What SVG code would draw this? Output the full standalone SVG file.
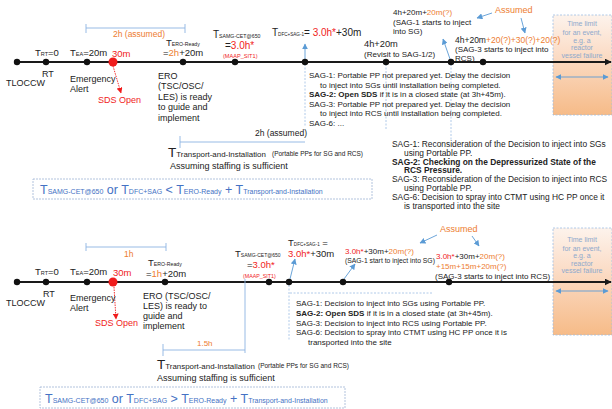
<svg xmlns="http://www.w3.org/2000/svg" width="612" height="409" viewBox="0 0 612 409">
<defs>
<style>
text{font-family:"Liberation Sans",Arial,"DejaVu Sans",sans-serif;fill:#222}
.f9{font-size:9px}
.f8{font-size:8px}
.f83{font-size:8.4px}
.or{fill:#ed7d31}
.rd{fill:#f01c1c}
.b{font-weight:bold}
.bx{fill:#4472c4}
.lim{fill:#8ea9cc;font-size:7px;text-anchor:middle}
.dot{fill:#111}
.tl{stroke:#1a1a1a;stroke-width:1.8;fill:none}
.bl{stroke:#8db3e2;stroke-width:0.9;fill:none}
.dl{stroke:#9dbde3;stroke-width:0.8;stroke-dasharray:2 1.5;fill:none}
.ar{stroke:#5b9bd5;stroke-width:0.9;fill:none}
.box{fill:#fff;stroke:#a9bcd9;stroke-width:0.9;stroke-dasharray:2 1}
.lb{fill:url(#og);stroke:#9dbde3;stroke-width:0.8;stroke-dasharray:2 1.5}
</style>
<linearGradient id="og" x1="0" y1="0" x2="0" y2="1">
<stop offset="0" stop-color="#fdf3ec"/>
<stop offset="0.4" stop-color="#fbdcc6"/>
<stop offset="1" stop-color="#f6bb88"/>
</linearGradient>
<marker id="mb" viewBox="0 0 10 10" refX="9" refY="5" markerWidth="6" markerHeight="6" markerUnits="userSpaceOnUse" orient="auto-start-reverse"><path d="M0,0 L10,5 L0,10 z" fill="#5b9bd5"/></marker>
<marker id="mr" viewBox="0 0 10 10" refX="9" refY="5" markerWidth="6" markerHeight="6" markerUnits="userSpaceOnUse" orient="auto"><path d="M0,0 L10,5 L0,10 z" fill="#f01c1c"/></marker>
<marker id="mk" viewBox="0 0 10 10" refX="9" refY="5" markerWidth="7" markerHeight="7" markerUnits="userSpaceOnUse" orient="auto"><path d="M0,0 L10,5 L0,10 z" fill="#1a1a1a"/></marker>
</defs>

<g id="limit-top">
<rect class="lb" x="553" y="15" width="59" height="100"/>
<text class="lim" x="582" y="26">Time limit</text>
<text class="lim" x="582" y="35">for an event,</text>
<text class="lim" x="582" y="42.5">e.g. a</text>
<text class="lim" x="582" y="50">reactor</text>
<text class="lim" x="582" y="57.5">vessel failure</text>
<line class="ar" x1="556" y1="77" x2="608" y2="77" marker-start="url(#mb)" marker-end="url(#mb)"/>
</g>
<g id="limit-bottom">
<rect class="lb" x="553" y="228" width="59" height="107"/>
<text class="lim" x="582" y="241.5">Time limit</text>
<text class="lim" x="582" y="250.5">for an event,</text>
<text class="lim" x="582" y="258">e.g. a</text>
<text class="lim" x="582" y="265.5">reactor</text>
<text class="lim" x="582" y="273">vessel failure</text>
<line class="ar" x1="556" y1="291" x2="608" y2="291" marker-start="url(#mb)" marker-end="url(#mb)"/>
</g>

<g id="connectors">
<line class="tl" x1="17" y1="62" x2="611" y2="62" marker-end="url(#mk)"/>
<line class="tl" x1="17" y1="282" x2="611" y2="282" marker-end="url(#mk)"/>
<path class="bl" d="M86,28 H185 M86,24 V33 M185,24 V33"/>
<path class="bl" d="M180,142 H305 M180,136 V148"/>
<line class="dl" x1="305" y1="64" x2="305" y2="127"/>
<line class="dl" x1="386" y1="64" x2="386" y2="130"/>
<line class="dl" x1="451" y1="64" x2="451" y2="140"/>
<line class="ar" x1="305" y1="59" x2="305" y2="44" marker-end="url(#mb)"/>
<line class="ar" x1="450" y1="59" x2="443" y2="39" marker-end="url(#mb)"/>
<line class="ar" x1="492" y1="13" x2="477" y2="18" marker-end="url(#mb)"/>
<line class="ar" x1="521" y1="18" x2="525" y2="33" marker-end="url(#mb)"/>
<line x1="113" y1="66" x2="121" y2="93" stroke="#f01c1c" stroke-width="0.9" stroke-dasharray="1.5 1" marker-end="url(#mr)"/>
<path class="bl" d="M86,247 H166 M86,243 V251 M166,243 V251"/>
<path class="bl" d="M163,350 H245 M163,344 V356 M245,279 V353"/>
<line class="dl" x1="289" y1="285" x2="289" y2="341"/>
<line class="dl" x1="290" y1="293" x2="432" y2="293"/>
<line class="ar" x1="290" y1="279" x2="295" y2="259" marker-end="url(#mb)"/>
<line class="ar" x1="344" y1="279" x2="355" y2="264" marker-end="url(#mb)"/>
<line class="ar" x1="437" y1="235" x2="420" y2="243" marker-end="url(#mb)"/>
<line class="ar" x1="472" y1="236" x2="479" y2="246" marker-end="url(#mb)"/>
<line x1="114" y1="287" x2="116" y2="319" stroke="#f01c1c" stroke-width="0.9" stroke-dasharray="1.5 1" marker-end="url(#mr)"/>
</g>

<g id="top-bracket-2h"><text class="or" x="113" y="37" font-size="8.5">2h (assumed)</text></g>
<g id="t-tloccw"><circle class="dot" cx="17" cy="62" r="3.2"/><text class="f9" x="6" y="86">TLOCCW</text></g>
<g id="t-rt"><circle class="dot" cx="46" cy="62" r="3.2"/>
<text x="35" y="56" font-size="9.5">T<tspan font-size="5.5">RT</tspan>=0</text>
<text class="f9" x="42" y="77">RT</text></g>
<g id="t-ea"><circle class="dot" cx="87" cy="62" r="3.2"/>
<text x="70" y="56" font-size="9.5">T<tspan font-size="5.5">EA</tspan>=20m</text>
<text class="f9" x="70" y="82">Emergency</text><text class="f9" x="70" y="91.5">Alert</text></g>
<g id="t-sds"><circle cx="113" cy="62" r="4.5" fill="#f01c1c"/>
<text class="rd" x="112" y="57" font-size="9.5">30m</text>
<text class="rd f9" x="98" y="103">SDS Open</text></g>
<g id="t-ero"><circle class="dot" cx="183" cy="62" r="3.2"/>
<text x="166" y="46" font-size="9.5">T<tspan font-size="5.2">ERO-Ready</tspan></text>
<text x="163" y="56" font-size="9.5">=<tspan class="or">2h</tspan>+20m</text>
<text class="f9" x="158" y="78.5">ERO</text>
<text class="f9" x="158" y="89">(TSC/OSC/</text>
<text class="f9" x="158" y="99.5">LES) is ready</text>
<text class="f9" x="158" y="110">to guide and</text>
<text class="f9" x="158" y="120.5">implement</text></g>
<g id="t-samg"><circle class="dot" cx="235" cy="62" r="3.2"/>
<text x="213" y="38" font-size="10">T<tspan font-size="5.2">SAMG-CET@650</tspan></text>
<text x="225" y="49" font-size="10">=<tspan class="rd">3.0h*</tspan></text>
<text class="rd" x="223" y="58" font-size="5.6">(MAAP_SIT1)</text></g>
<g id="t-dfc"><circle class="dot" cx="305" cy="62" r="3.2"/>
<text x="272" y="36" font-size="10">T<tspan font-size="4.6">DFC+SAG-1</tspan>= <tspan class="rd">3.0h*</tspan>+30m</text></g>
<g id="t-revisit"><circle class="dot" cx="386" cy="62" r="3.2"/>
<text x="364" y="47" font-size="9.3">4h+20m</text>
<text class="f8" x="364" y="56.5">(Revisit to SAG-1/2)</text></g>
<g id="t-sag1"><circle class="dot" cx="451" cy="62" r="3.2"/>
<text class="f8" x="393" y="15">4h+20m+<tspan class="or">20m(?)</tspan></text>
<text class="f8" x="393" y="25">(SAG-1 starts to inject</text>
<text class="f8" x="393" y="34">into SG)</text></g>
<g id="t-sag3"><circle class="dot" cx="483" cy="62" r="3.2"/>
<text x="455" y="43" font-size="8.5">4h+20m<tspan class="or">+20(?)+30(?)+20(?)</tspan></text>
<text class="f8" x="455" y="52">(SAG-3 starts to inject into</text>
<text class="f8" x="455" y="60.5">RCS)</text></g>
<g id="t-assumed"><text class="or" x="495" y="12.5" font-size="9">Assumed</text></g>
<g id="t-sag-block1">
<text class="f8" x="309" y="78">SAG-1: Portable PP not prepared yet. Delay the decision</text>
<text class="f8" x="320" y="87.5">to inject into SGs until installation being completed.</text>
<text class="f8" x="309" y="97"><tspan class="b">SAG-2: Open SDS</tspan> if it is in a closed state (at 3h+45m).</text>
<text class="f8" x="309" y="106.5">SAG-3: Portable PP not prepared yet. Delay the decision</text>
<text class="f8" x="320" y="116">to inject into RCS until installation being completed.</text>
<text class="f8" x="309" y="125.5">SAG-6: ...</text></g>
<g id="t-transport">
<text x="255" y="136" font-size="8.5">2h (assumed)</text>
<text x="168" y="157" font-size="13.5">T<tspan font-size="7.9">Transport-and-Installation</tspan></text>
<text x="272" y="156" font-size="6.5">(Portable PPs for SG and RCS)</text>
<text class="f9" x="170" y="169">Assuming staffing is sufficient</text></g>
<g id="t-sag-block2">
<text class="f83" x="392" y="147">SAG-1: Reconsideration of the Decision to inject into SGs</text>
<text class="f83" x="404" y="155.8">using Portable PP.</text>
<text class="f83 b" x="392" y="164.6">SAG-2: Checking on the Depressurized State of the</text>
<text class="f83 b" x="404" y="173.4">RCS Pressure.</text>
<text class="f83" x="392" y="182.2">SAG-3: Reconsideration of the Decision to inject into RCS</text>
<text class="f83" x="404" y="191">using Portable PP.</text>
<text class="f83" x="392" y="199.8">SAG-6: Decision to spray into CTMT using HC PP once it</text>
<text class="f83" x="404" y="208.6">is transported into the site</text></g>
<g id="t-condition">
<rect class="box" x="33" y="179" width="339" height="20"/>
<text class="bx" x="40" y="194" font-size="12.5">T<tspan font-size="7">SAMG-CET@650</tspan> or T<tspan font-size="7">DFC+SAG</tspan> &lt; T<tspan font-size="7">ERO-Ready</tspan> + T<tspan font-size="7">Transport-and-Installation</tspan></text></g>

<g id="b-bracket-1h"><text class="or" x="124" y="257" font-size="8.5">1h</text></g>
<g id="b-tloccw"><circle class="dot" cx="17" cy="282" r="3.2"/><text class="f9" x="6" y="306">TLOCCW</text></g>
<g id="b-rt"><circle class="dot" cx="46" cy="282" r="3.2"/>
<text x="35" y="275" font-size="9.5">T<tspan font-size="5.5">RT</tspan>=0</text>
<text class="f9" x="43" y="297">RT</text></g>
<g id="b-ea"><circle class="dot" cx="87" cy="282" r="3.2"/>
<text x="70" y="275" font-size="9.5">T<tspan font-size="5.5">EA</tspan>=20m</text>
<text class="f9" x="70" y="301">Emergency</text><text class="f9" x="70" y="311">Alert</text></g>
<g id="b-sds"><circle cx="113" cy="282" r="4.5" fill="#f01c1c"/>
<text class="rd" x="113" y="276" font-size="9.5">30m</text>
<text class="rd f9" x="95" y="326">SDS Open</text></g>
<g id="b-ero"><circle class="dot" cx="165" cy="282" r="3.2"/>
<text x="148" y="266" font-size="9.5">T<tspan font-size="5.2">ERO-Ready</tspan></text>
<text x="146" y="277" font-size="9.5">=<tspan class="or">1h</tspan>+20m</text>
<text class="f9" x="143" y="298.5">ERO (TSC/OSC/</text>
<text class="f9" x="143" y="308.5">LES) is ready to</text>
<text class="f9" x="143" y="318.5">guide and</text>
<text class="f9" x="143" y="328.5">implement</text></g>
<g id="b-samg"><circle class="dot" cx="269" cy="282" r="3.2"/>
<text x="235" y="257" font-size="9.5">T<tspan font-size="5">SAMG-CET@650</tspan></text>
<text x="247" y="268" font-size="9.5">=<tspan class="rd">3.0h*</tspan></text>
<text class="rd" x="243" y="277.5" font-size="5.3">(MAAP_SIT1)</text></g>
<g id="b-dfc"><circle class="dot" cx="289" cy="282" r="3.2"/>
<text x="288" y="246" font-size="9.5">T<tspan font-size="4.6">DFC+SAG-1</tspan> =</text>
<text x="288" y="256.5" font-size="9.5"><tspan class="rd">3.0h*</tspan>+30m</text></g>
<g id="b-sag1"><circle class="dot" cx="343" cy="282" r="3.2"/>
<text class="f8" x="345" y="254"><tspan class="rd">3.0h*</tspan>+30m+<tspan class="or">20m(?)</tspan></text>
<text x="345" y="262.5" font-size="6.8">(SAG-1 start to inject into SG)</text></g>
<g id="b-sag3"><circle class="dot" cx="449" cy="282" r="3.2"/>
<text class="f8" x="436" y="259"><tspan class="rd">3.0h*</tspan>+30m+<tspan class="or">20m(?)</tspan></text>
<text class="f8 or" x="436" y="269">+15m+15m+20m(?)</text>
<text class="f8" x="435" y="279">(SAG-3 starts to inject into RCS)</text></g>
<g id="b-assumed"><text class="or" x="440" y="231.5" font-size="9">Assumed</text></g>
<g id="b-sag-block">
<text class="f8" x="296" y="306">SAG-1: Decision to inject into SGs using Portable PP.</text>
<text class="f8" x="296" y="316"><tspan class="b">SAG-2: Open SDS</tspan> if it is in a closed state (at 3h+45m).</text>
<text class="f8" x="296" y="326">SAG-3: Decision to inject into RCS using Portable PP.</text>
<text class="f8" x="296" y="335">SAG-6: Decision to spray into CTMT using HC PP once it is</text>
<text class="f8" x="308" y="345">transported into the site</text></g>
<g id="b-transport">
<text class="or" x="197" y="346" font-size="8">1.5h</text>
<text x="157" y="369" font-size="13.5">T<tspan font-size="7.9">Transport-and-Installation</tspan></text>
<text x="258" y="368" font-size="6.5">(Portable PPs for SG and RCS)</text>
<text class="f9" x="157" y="381">Assuming staffing is sufficient</text></g>
<g id="b-condition">
<rect class="box" x="40" y="387" width="305" height="21"/>
<text class="bx" x="45" y="403" font-size="12.5">T<tspan font-size="7">SAMG-CET@650</tspan> or T<tspan font-size="7">DFC+SAG</tspan> &gt; T<tspan font-size="7">ERO-Ready</tspan> + T<tspan font-size="7">Transport-and-Installation</tspan></text></g>
</svg>
